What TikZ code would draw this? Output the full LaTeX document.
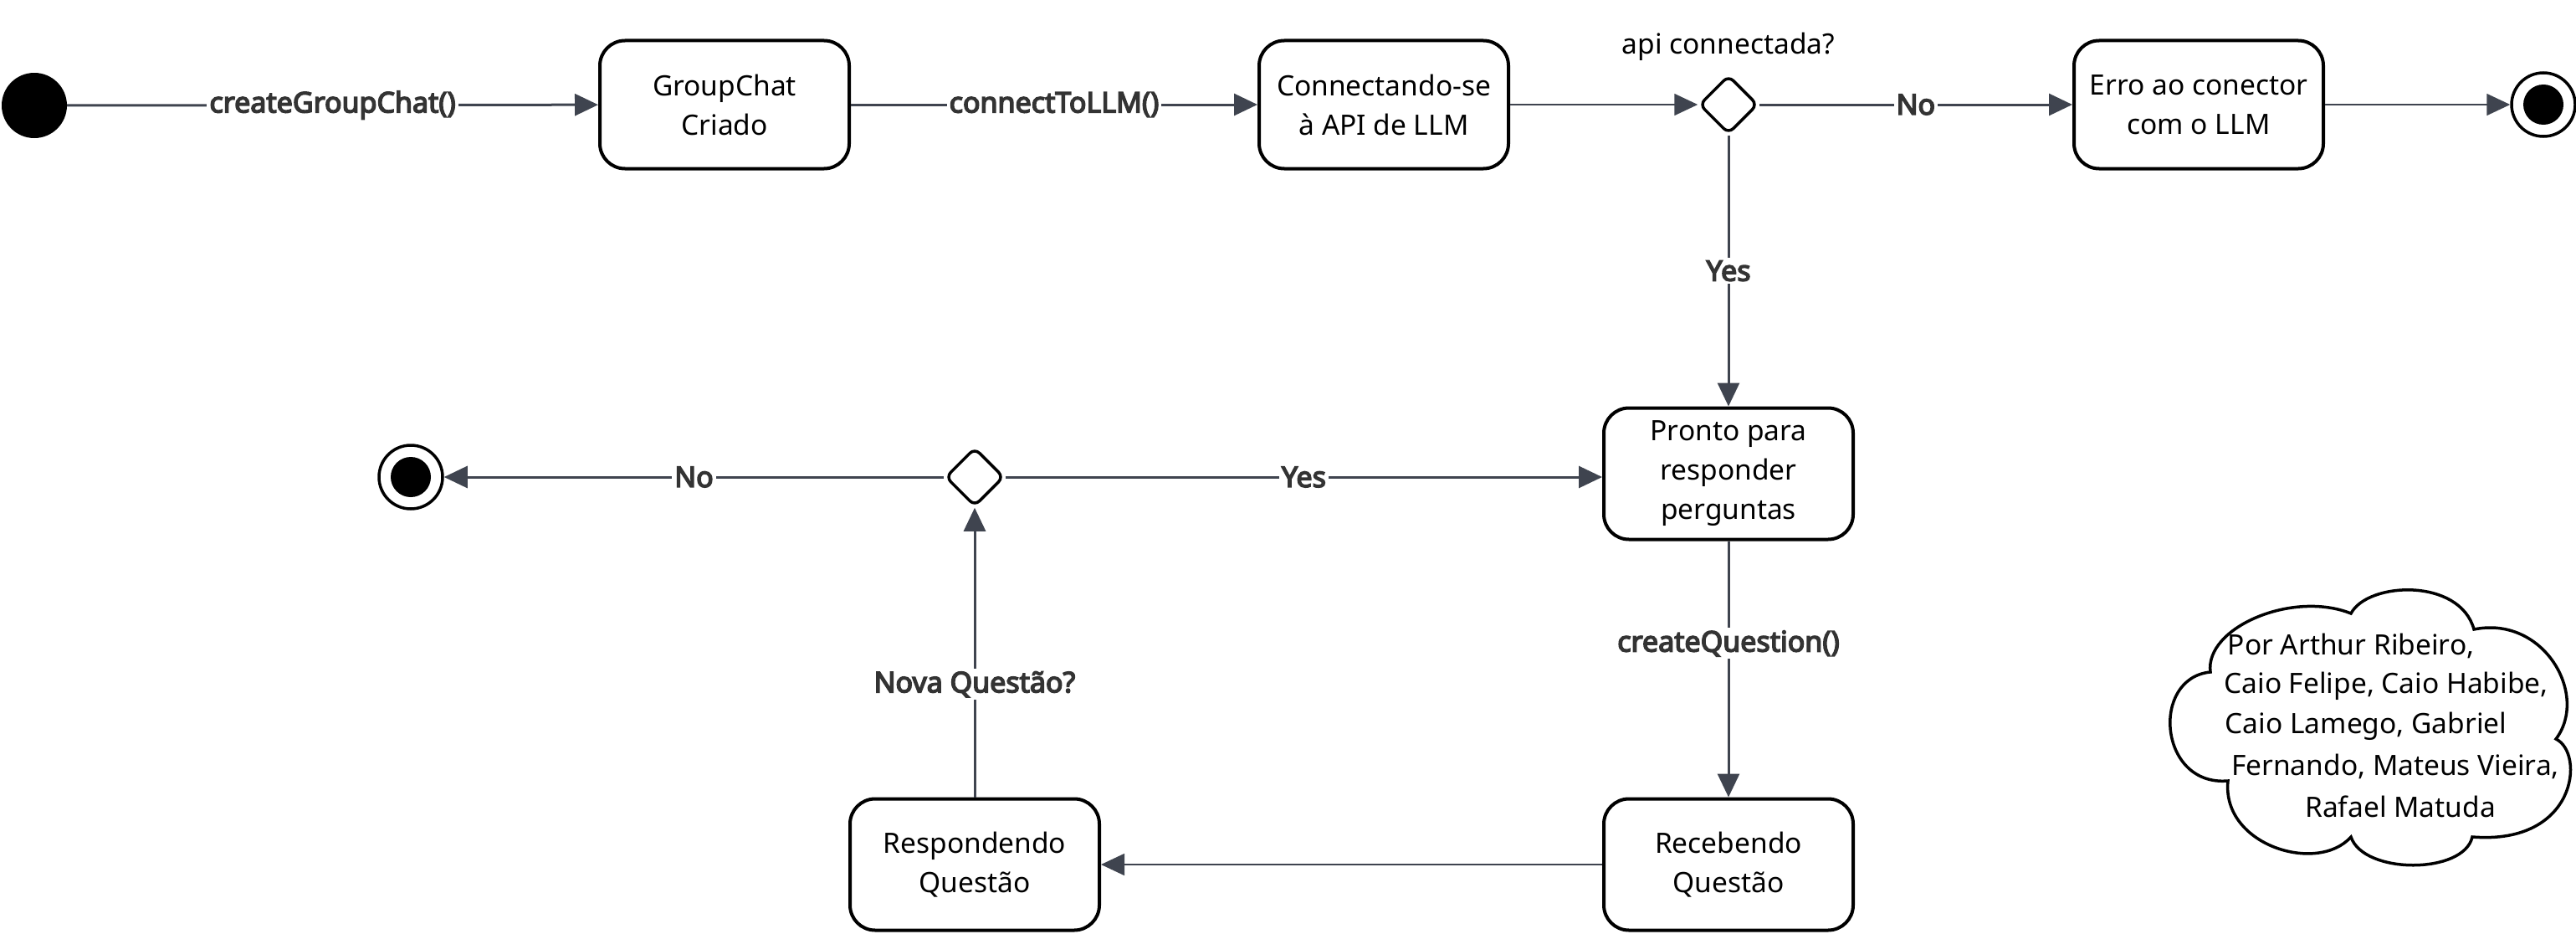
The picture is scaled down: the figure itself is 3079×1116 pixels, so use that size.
\documentclass[tikz,border=0pt]{standalone}
\usepackage{fontspec}
\setmainfont{Noto Sans}
\newfontfamily\lblfont{Noto Sans}[FakeBold=4.5]
\usetikzlibrary{shapes.geometric,arrows.meta}
\definecolor{edgecol}{HTML}{3F444F}
\definecolor{lblcol}{HTML}{333333}
\begin{document}
\begin{tikzpicture}[x=1pt,y=-1pt,
  statebox/.style={draw=black, line width=4pt, rounded corners=30pt, minimum width=298pt, minimum height=153pt, align=center, inner sep=0pt, font=\fontsize{33.5}{47}\selectfont},
  decis/.style={diamond, draw=black, line width=3.5pt, rounded corners=8pt, minimum size=70pt, inner sep=0pt},
  startdot/.style={circle, fill=black, minimum size=78pt, inner sep=0pt},
  endouter/.style={circle, draw=black, line width=3.5pt, fill=white, minimum size=76pt, inner sep=0pt},
  enddot/.style={circle, fill=black, minimum size=48pt, inner sep=0pt},
  conn/.style={draw=edgecol, line width=3pt, -{Triangle[length=28pt,width=26pt]}},
  thinconn/.style={draw=edgecol, line width=1.6pt, -{Triangle[length=28pt,width=26pt]}},
  elabel/.style={fill=white, text=lblcol, inner sep=3pt, font=\fontsize{34}{38}\lblfont},
  plainlabel/.style={text=black, font=\fontsize{33.5}{38}\selectfont},
  cloudtext/.style={text=black, inner sep=0pt, font=\fontsize{33.5}{38}\selectfont}
]
\useasboundingbox (0,0) rectangle (3079,1116);

% top row
\node[startdot] (start) at (41,126) {};
\node[statebox] (gc) at (866,125) {GroupChat\\Criado};
\node[statebox] (cn) at (1654,125) {Connectando-se\\à API de LLM};
\node[decis] (d1) at (2066,125) {};
\node[plainlabel] (d1lbl) at (2066,56) {api connectada?};
\node[statebox] (err) at (2628,125) {Erro ao conector\\com o LLM};
\node[endouter] (end1) at (3040,125) {};
\node[enddot] (end1dot) at (end1.center) {};

% middle/bottom
\node[statebox, minimum height=157pt] (pr) at (2066,566) {Pronto para\\responder\\perguntas};
\node[statebox, minimum height=157pt] (rc) at (2066,1033) {Recebendo\\Questão};
\node[statebox, minimum height=157pt] (rs) at (1165,1033) {Respondendo\\Questão};
\node[decis] (d2) at (1165,570) {};
\node[endouter] (end2) at (491,570) {};
\node[enddot] (end2dot) at (end2.center) {};

% cloud
\draw[black, line width=3.5pt, line join=miter]
  (2642,803) .. controls (2635,750) and (2740,705) .. (2810,733)
  .. controls (2830,695) and (2940,690) .. (2957,752)
  .. controls (3040,735) and (3095,830) .. (3055,883)
  .. controls (3090,900) and (3080,1010) .. (2955,1000)
  .. controls (2945,1045) and (2825,1045) .. (2810,1000)
  .. controls (2770,1045) and (2655,1010) .. (2663,933)
  .. controls (2580,940) and (2570,810) .. cycle;
\node[cloudtext] (cl1) at (2810,772) {Por Arthur Ribeiro,};
\node[cloudtext] (cl2) at (2852,820) {Caio Felipe, Caio Habibe,};
\node[cloudtext] (cl3) at (2828,868) {Caio Lamego, Gabriel};
\node[cloudtext] (cl4) at (2863,916) {Fernando, Mateus Vieira,};
\node[cloudtext] (cl5) at (2869,964) {Rafael Matuda};

% connectors
\draw[conn] (start) -- node[elabel] {createGroupChat()} (gc);
\draw[conn] (gc) -- node[elabel] {connectToLLM()} (cn);
\draw[thinconn] (cn) -- (d1);
\draw[conn] (d1) -- node[elabel] {No} (err);
\draw[thinconn] (err) -- (end1);
\draw[conn] (d1) -- node[elabel] {Yes} (pr);
\draw[conn] (pr) -- node[elabel, pos=0.4] {createQuestion()} (rc);
\draw[thinconn] (rc) -- (rs);
\draw[conn] (rs) -- node[elabel, pos=0.39] {Nova Questão?} (d2);
\draw[conn] (d2) -- node[elabel] {Yes} (d2 -| pr.west);
\draw[conn] (d2) -- node[elabel] {No} (end2);
\end{tikzpicture}
\end{document}
